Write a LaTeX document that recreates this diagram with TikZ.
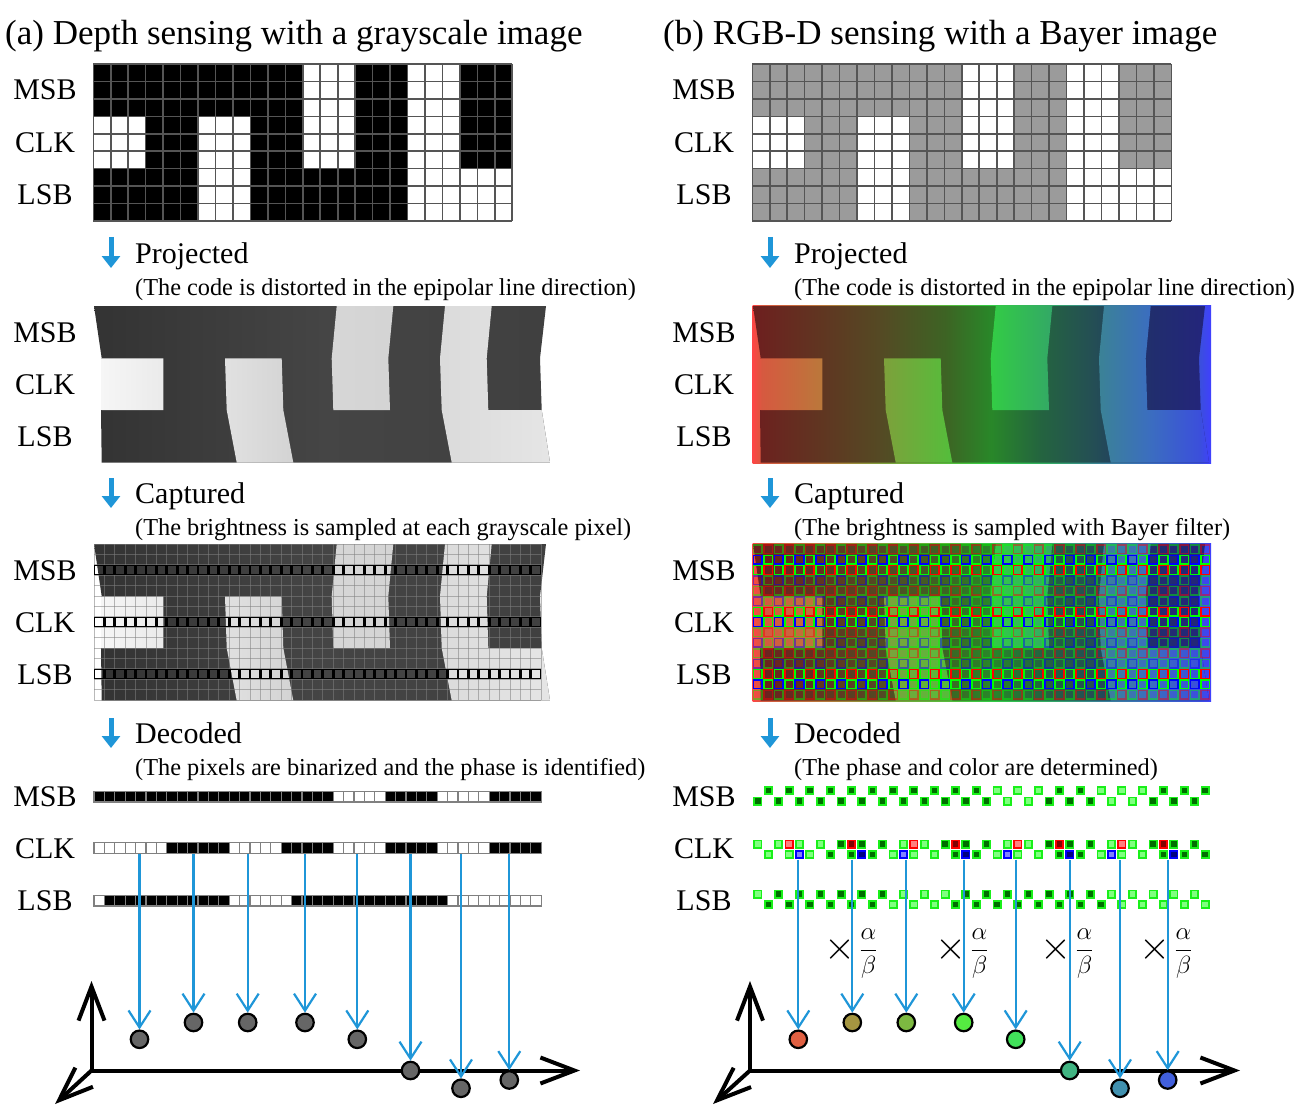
\documentclass[tikz,border=0pt]{standalone}
\usepackage{graphicx}
\usepackage{fontspec}
\setmainfont{Liberation Serif}
\usetikzlibrary{arrows.meta}
\definecolor{arrowblue}{RGB}{31,150,216}
\definecolor{gridc}{RGB}{85,85,85}
\definecolor{codegray}{RGB}{155,155,155}
\definecolor{dotgray}{RGB}{102,102,102}
\definecolor{gdark}{RGB}{0,110,0}
\definecolor{glight}{RGB}{128,255,128}
\definecolor{gedge}{RGB}{25,240,25}
\definecolor{rdark}{RGB}{130,0,0}
\definecolor{rlight}{RGB}{255,128,128}
\definecolor{redge}{RGB}{255,0,0}
\definecolor{bdark}{RGB}{0,0,130}
\definecolor{blight}{RGB}{128,128,255}
\definecolor{bedge}{RGB}{0,0,255}
\definecolor{bayR}{RGB}{255,0,0}
\definecolor{bayG}{RGB}{0,255,0}
\definecolor{bayB}{RGB}{0,0,255}
\definecolor{cA}{RGB}{224,96,66}
\definecolor{cB}{RGB}{165,150,65}
\definecolor{cC}{RGB}{125,185,65}
\definecolor{cD}{RGB}{85,235,65}
\definecolor{cE}{RGB}{65,225,90}
\definecolor{cF}{RGB}{65,180,130}
\definecolor{cG}{RGB}{65,145,175}
\definecolor{cH}{RGB}{65,95,220}

\pgfdeclarehorizontalshading{brightG}{100bp}{rgb(0bp)=(.97,.97,.97); rgb(25bp)=(.97,.97,.97); rgb(32.5bp)=(.92,.92,.92); rgb(39.5bp)=(.88,.88,.88); rgb(46.5bp)=(.83,.83,.83); rgb(52bp)=(.84,.84,.84); rgb(57.5bp)=(.83,.83,.83); rgb(63.5bp)=(.86,.86,.86); rgb(75bp)=(.9,.9,.9); rgb(100bp)=(.9,.9,.9)}
\pgfdeclarehorizontalshading{darkG}{100bp}{rgb(0bp)=(.2,.2,.2); rgb(25bp)=(.2,.2,.2); rgb(50bp)=(.27,.27,.27); rgb(75bp)=(.25,.25,.25); rgb(100bp)=(.25,.25,.25)}
\pgfdeclarehorizontalshading{brightRGB}{100bp}{rgb(0bp)=(1,.27,.27); rgb(25bp)=(1,.27,.27); rgb(26bp)=(.84,.35,.25); rgb(32.65bp)=(.73,.47,.23); rgb(39.3bp)=(.49,.63,.23); rgb(45.85bp)=(.35,.73,.23); rgb(51bp)=(.2,.8,.27); rgb(57.2bp)=(.2,.67,.39); rgb(62.85bp)=(.23,.51,.59); rgb(68.3bp)=(.23,.43,.75); rgb(73.75bp)=(.23,.31,.86); rgb(75bp)=(.25,.25,1); rgb(100bp)=(.25,.25,1)}
\pgfdeclarehorizontalshading{darkRGB}{100bp}{rgb(0bp)=(.43,.12,.12); rgb(25bp)=(.43,.12,.12); rgb(39bp)=(.33,.29,.14); rgb(46bp)=(.24,.39,.14); rgb(51bp)=(.16,.53,.16); rgb(56.5bp)=(.14,.39,.25); rgb(62bp)=(.14,.31,.33); rgb(68.5bp)=(.13,.18,.43); rgb(75bp)=(.14,.14,.49); rgb(100bp)=(.14,.14,.49)}

\newcommand\projimg[4]{%
\begin{scope}[shift={(#1,#2)}]
 \begin{scope}
  \clip (94,306) -- (546,306) -- (540,358.3) -- (541.7,410) -- (550,462.5) -- (101.7,462.5) -- (101,410) -- (101.7,358.3) -- cycle;
  \shade[shading=#4] (93.5,305.5) rectangle (552,463);
 \end{scope}
 \begin{scope}
  \clip (101.7,358.3) rectangle (163.3,410)
   (225,358.3) -- (281.7,358.3) -- (283.3,410) -- (293.3,462.5) -- (236.7,462.5) -- (226.7,410) -- cycle
   (336.7,306) -- (393.3,306) -- (388.3,358.3) -- (390,410) -- (333.3,410) -- (331.7,358.3) -- cycle
   (445,306) -- (491.7,306) -- (486.7,358.3) -- (488.3,410) -- (541.7,410) -- (550,462.5) -- (451.7,462.5) -- (441.7,410) -- (440,358.3) -- cycle;
  \shade[shading=#3] (93.5,305.5) rectangle (552,463);
 \end{scope}
\end{scope}}

\newcommand\codegrid[2]{%
\begin{scope}[shift={(#1,0)}]
 \foreach \b/\bits in {0/{1,1,1,1,0,1,0,1},1/{0,1,0,1,0,1,0,1},2/{1,1,0,1,1,1,0,0}} {
  \foreach \v [count=\g from 0] in \bits {
   \ifnum\v=1\relax \def\fc{#2}\else\def\fc{white}\fi
   \fill[\fc] (93.3+\g*52.375, 64+\b*52.333) rectangle ++(52.375,52.333);
  }
 }
 \foreach \i in {0,...,24} \draw[gridc, line width=1.6pt] (93.3+\i*17.458,64) -- ++(0,157);
 \foreach \j in {0,...,9} \draw[gridc, line width=1.6pt] (93.3,64+\j*17.444) -- ++(419,0);
\end{scope}}

\begin{document}
\begin{tikzpicture}[x=1pt,y=-1pt,
  ttl/.style={font=\fontsize{35}{42}\selectfont, anchor=base west, inner sep=0pt},
  lab/.style={font=\fontsize{30}{36}\selectfont, anchor=base, inner sep=0pt},
  stage/.style={font=\fontsize{30}{36}\selectfont, anchor=base west, inner sep=0pt},
  sub/.style={font=\fontsize{24.3}{29}\selectfont, anchor=base west, inner sep=0pt},
  stagearr/.style={draw=arrowblue, line width=5pt, -{Triangle[length=12pt,width=18pt]}},
  bluearr/.style={draw=arrowblue, line width=2.2pt, -{Straight Barb[length=17pt,width=22pt]}},
  axisarr/.style={draw=black, line width=4pt, line cap=round, -{Straight Barb[length=34pt,width=26pt]}},
  ptdot/.style={circle, draw=black, line width=2.2pt, minimum size=17.5pt, inner sep=0pt},
  deccell/.style={draw=gray, line width=1.2pt},
  gsq/.style={draw=gedge, line width=1.8pt},
  frac/.style={font=\fontsize{20}{24}\selectfont, inner sep=0pt, scale=1.2, transform shape},
]
\useasboundingbox (0,0) rectangle (1309,1110);

% ---------- code patterns ----------
\codegrid{0}{black}
\codegrid{659}{codegray}

% ---------- projected ----------
\projimg{0}{0}{brightG}{darkG}
\shade[shading=brightRGB] (752.5,305.5) rectangle (1211,463);
\projimg{659}{0}{brightRGB}{darkRGB}

% ---------- captured ----------
\projimg{0}{238}{brightG}{darkG}
\foreach \i in {0,...,43} \draw[gray, opacity=.55, line width=1pt] (94+\i*10.4,544) -- ++(0,156);
\foreach \j in {0,...,15} \draw[gray, opacity=.55, line width=1pt] (94,544+\j*10.4) -- ++(447.2,0);
\foreach \r in {2,7,12} \foreach \c in {0,...,42}
  \draw[black, line width=1.6pt] (94.6+\c*10.4, 544.6+\r*10.4) rectangle ++(9.2,9.2);

\shade[shading=brightRGB] (752.5,543.5) rectangle (1211,701);
\projimg{659}{238}{brightRGB}{darkRGB}
\foreach \r in {0,...,14} {
  \ifcase\r\relax \def\hl{0}\or \def\hl{1}\or \def\hl{1}\or \def\hl{0}\or \def\hl{0}\or \def\hl{0}\or \def\hl{1}\or \def\hl{1}\or \def\hl{0}\or \def\hl{0}\or \def\hl{0}\or \def\hl{0}\or \def\hl{1}\or \def\hl{1}\or \def\hl{0}\fi
  \foreach \c in {0,...,43} {
    \ifodd\r\relax
      \ifodd\c\relax \def\bc{bayG}\else \def\bc{bayB}\fi
    \else
      \ifodd\c\relax \def\bc{bayR}\else \def\bc{bayG}\fi
    \fi
    \ifnum\hl=1\relax \def\op{1}\else \def\op{0.45}\fi
    \draw[draw=\bc, draw opacity=\op, line width=1.5pt] (753.6+\c*10.4, 544.9+\r*10.4) rectangle ++(8.6,8.6);
  }
}

% ---------- decoded (left) ----------
\foreach \yc/\bits in {
 796.7/{1,1,1,1,1,1,1,1,1,1,1,1,1,1,1,1,1,1,1,1,1,1,1,0,0,0,0,0,1,1,1,1,1,0,0,0,0,0,1,1,1,1,1,1},
 848/{0,0,0,0,0,0,0,1,1,1,1,1,1,0,0,0,0,0,1,1,1,1,1,0,0,0,0,0,1,1,1,1,1,0,0,0,0,0,1,1,1,1,1,1},
 900.8/{0,1,1,1,1,1,1,1,1,1,1,1,1,0,0,0,0,0,0,1,1,1,1,1,1,1,1,1,1,1,1,1,1,1,0,0,0,0,0,0,0,0,0,0}} {
  \foreach \v [count=\c from 0] in \bits {
    \ifnum\c<43\relax
      \ifnum\v=1\relax \def\fc{black}\else \def\fc{white}\fi
      \draw[deccell, fill=\fc] (94+\c*10.4, \yc-5.2) rectangle ++(10.4,10.4);
    \fi
  }
}

% ---------- decoded (right) ----------
\foreach \v [count=\c from 0] in {1,1,1,1,1,1,1,1,1,1,1,1,1,1,1,1,1,1,1,1,1,1,1,0,0,0,0,0,1,1,1,1,1,0,0,0,0,0,1,1,1,1,1,1} {
  \ifodd\c\relax \def\yy{790.6}\else \def\yy{801}\fi
  \ifnum\v=1\relax \def\fc{gdark}\else \def\fc{glight}\fi
  \draw[gsq, fill=\fc] (754.3+\c*10.4, \yy-3.6) rectangle ++(7.2,7.2);
}
\foreach \v [count=\c from 0] in {0,0,0,0,0,0,0,1,1,1,1,1,1,0,0,0,0,0,1,1,1,1,1,0,0,0,0,0,1,1,1,1,1,0,0,0,0,0,1,1,1,1,1,1} {
  \ifodd\c\relax \def\yy{854.5}\else \def\yy{844.1}\fi
  \ifnum\v=1\relax \def\fc{gdark}\else \def\fc{glight}\fi
  \draw[gsq, fill=\fc] (754.3+\c*10.4, \yy-3.6) rectangle ++(7.2,7.2);
}
\foreach \c/\v in {3/0,9/1,15/0,19/1,25/0,29/1,35/0,39/1} {
  \ifnum\v=1\relax \def\fc{rdark}\else \def\fc{rlight}\fi
  \draw[draw=redge, line width=1.8pt, fill=\fc] (754.3+\c*10.4, 844.1-3.6) rectangle ++(7.2,7.2);
}
\foreach \c/\v in {4/0,10/1,14/0,20/1,24/0,30/1,34/0,40/1} {
  \ifnum\v=1\relax \def\fc{bdark}\else \def\fc{blight}\fi
  \draw[draw=bedge, line width=1.8pt, fill=\fc] (754.3+\c*10.4, 854.5-3.6) rectangle ++(7.2,7.2);
}
\foreach \v [count=\c from 0] in {0,1,1,1,1,1,1,1,1,1,1,1,1,0,0,0,0,0,0,1,1,1,1,1,1,1,1,1,1,1,1,1,1,1,0,0,0,0,0,0,0,0,0,0} {
  \ifodd\c\relax \def\yy{904.4}\else \def\yy{894}\fi
  \ifnum\v=1\relax \def\fc{gdark}\else \def\fc{glight}\fi
  \draw[gsq, fill=\fc] (754.3+\c*10.4, \yy-3.6) rectangle ++(7.2,7.2);
}

% ---------- axes ----------
\coordinate (oL) at (91.5,1070.5);
\coordinate (yL) at (91.5,981);
\coordinate (xL) at (580,1070.5);
\coordinate (zL) at (55,1104);
\draw[axisarr] (oL) -- (yL);
\draw[axisarr] (oL) -- (xL);
\draw[axisarr] (oL) -- (zL);
\coordinate (oR) at (750,1070.5);
\coordinate (yR) at (750,981);
\coordinate (xR) at (1240,1070.5);
\coordinate (zR) at (713,1104);
\draw[axisarr] (oR) -- (yR);
\draw[axisarr] (oR) -- (xR);
\draw[axisarr] (oR) -- (zR);

% ---------- dots and arrows (left) ----------
\foreach \n/\x/\y in {1/139.5/1039.3,2/193.5/1022.5,3/247.7/1022.5,4/305/1022.5,5/357.3/1039.3,6/410.5/1070.5,7/461/1088.3,8/509.3/1080} {
  \node[ptdot, fill=dotgray] (dL\n) at (\x,\y) {};
  \coordinate (sL\n) at (\x,853.5);
  \draw[bluearr] (sL\n) -- (dL\n.north);
}
% ---------- dots and arrows (right) ----------
\foreach \n/\x/\y/\col in {1/798.3/1039.3/cA,2/852.3/1022.5/cB,3/906.3/1022.5/cC,4/963.7/1022.5/cD,5/1015.7/1039.3/cE,6/1069.7/1070.5/cF,7/1120/1088.3/cG,8/1167.7/1080/cH} {
  \node[ptdot, fill=\col] (dR\n) at (\x,\y) {};
  \coordinate (sR\n) at (\x,859.5);
  \draw[bluearr] (sR\n) -- (dR\n.north);
}
\foreach \n/\x in {1/851,2/962,3/1067,4/1166}
  \node[frac] (ab\n) at (\x,954) {$\raisebox{-0.12em}{\scalebox{1.6}{$\times$}}\,\displaystyle\frac{\alpha}{\beta}$};

% ---------- titles ----------
\node[ttl] (tA) at (5,45) {(a) Depth sensing with a grayscale image};
\node[ttl] (tB) at (663,45) {(b) RGB-D sensing with a Bayer image};

% ---------- row labels ----------
\foreach \side/\lx in {L/45,R/704} {
  \foreach \blk/\ya/\yb/\yc in {a/100/152.5/205, b/342/394/446, c/580/632/684, d/806.5/858.5/910.5} {
    \node[lab] (msb\side\blk) at (\lx,\ya) {MSB};
    \node[lab] (clk\side\blk) at (\lx,\yb) {CLK};
    \node[lab] (lsb\side\blk) at (\lx,\yc) {LSB};
  }
}

% ---------- stage arrows & labels ----------
\foreach \side/\ax/\tx in {L/111/135,R/770/794} {
  \coordinate (p1\side) at (\ax,237); \coordinate (p2\side) at (\ax,268);
  \draw[stagearr] (p1\side) -- (p2\side);
  \coordinate (c1\side) at (\ax,478); \coordinate (c2\side) at (\ax,508);
  \draw[stagearr] (c1\side) -- (c2\side);
  \coordinate (e1\side) at (\ax,718); \coordinate (e2\side) at (\ax,748);
  \draw[stagearr] (e1\side) -- (e2\side);
  \node[stage] (proj\side) at (\tx,263) {Projected};
  \node[stage] (capt\side) at (\tx,503) {Captured};
  \node[stage] (deco\side) at (\tx,743) {Decoded};
}
\node[sub] (subLa) at (135,295) {(The code is distorted in the epipolar line direction)};
\node[sub] (subLb) at (135,535) {(The brightness is sampled at each grayscale pixel)};
\node[sub] (subLc) at (135,775) {(The pixels are binarized and the phase is identified)};
\node[sub] (subRa) at (794,295) {(The code is distorted in the epipolar line direction)};
\node[sub] (subRb) at (794,535) {(The brightness is sampled with Bayer filter)};
\node[sub] (subRc) at (794,775) {(The phase and color are determined)};
\end{tikzpicture}
\end{document}
